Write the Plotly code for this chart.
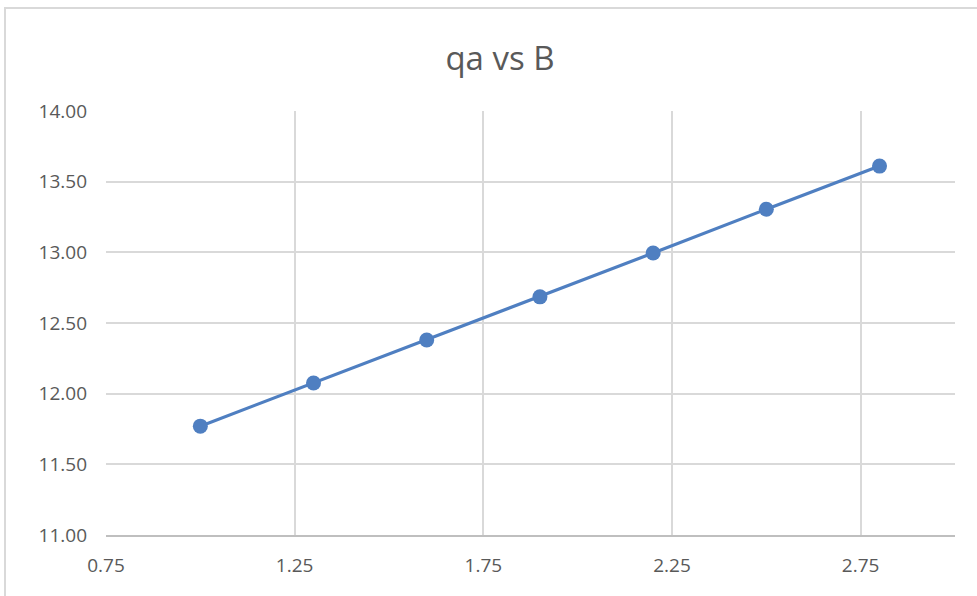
import plotly.graph_objects as go

# qa as a function of B
b_values = [1.0, 1.3, 1.6, 1.9, 2.2, 2.5, 2.8]
qa_values = [11.77, 12.075, 12.38, 12.685, 12.995, 13.305, 13.61]

x_ticks = [0.75, 1.25, 1.75, 2.25, 2.75]
y_ticks = [11.0, 11.5, 12.0, 12.5, 13.0, 13.5, 14.0]

W, H = 977, 596
L, R, T, B = 106, 22, 111, 61

fig = go.Figure()
fig.add_trace(go.Scatter(
    x=b_values, y=qa_values, mode="lines+markers",
    line=dict(color="#4F7FC1", width=3.2),
    marker=dict(color="#4F7FC1", size=15),
    showlegend=False,
))

font = "'Open Sans', sans-serif"

fig.update_layout(
    width=W, height=H,
    margin=dict(l=L, r=R, t=T, b=B),
    paper_bgcolor="white", plot_bgcolor="white",
    title=dict(text="qa vs B", x=500 / W, xref="container", xanchor="center",
               y=1 - 58 / H, yref="container", yanchor="middle",
               font=dict(family=font, size=33, color="#595959")),
    xaxis=dict(range=[0.75, 3.0], tickvals=x_ticks, tickformat=".2f",
               showgrid=True, gridcolor="#D9D9D9", gridwidth=1.5,
               showline=True, linecolor="#BFBFBF", linewidth=2,
               zeroline=False, ticks="", ticklabelstandoff=12,
               tickfont=dict(family=font, size=19, color="#595959")),
    yaxis=dict(range=[11.0, 14.0], tickvals=y_ticks, tickformat=".2f",
               showgrid=True, gridcolor="#D9D9D9", gridwidth=1.5,
               showline=False, zeroline=False, ticks="", ticklabelstandoff=18,
               tickfont=dict(family=font, size=19, color="#595959")),
)

# chart-area border along the left and top edges
pw, ph = W - L - R, H - T - B
def px(v):
    return (v - L) / pw
def py(v):
    return (H - B - v) / ph

fig.add_shape(type="path", xref="paper", yref="paper",
              path=f"M {px(5)} {py(600)} L {px(5)} {py(8)} L {px(980)} {py(8)}",
              line=dict(color="#D9D9D9", width=2))

fig.write_html("out.html")
